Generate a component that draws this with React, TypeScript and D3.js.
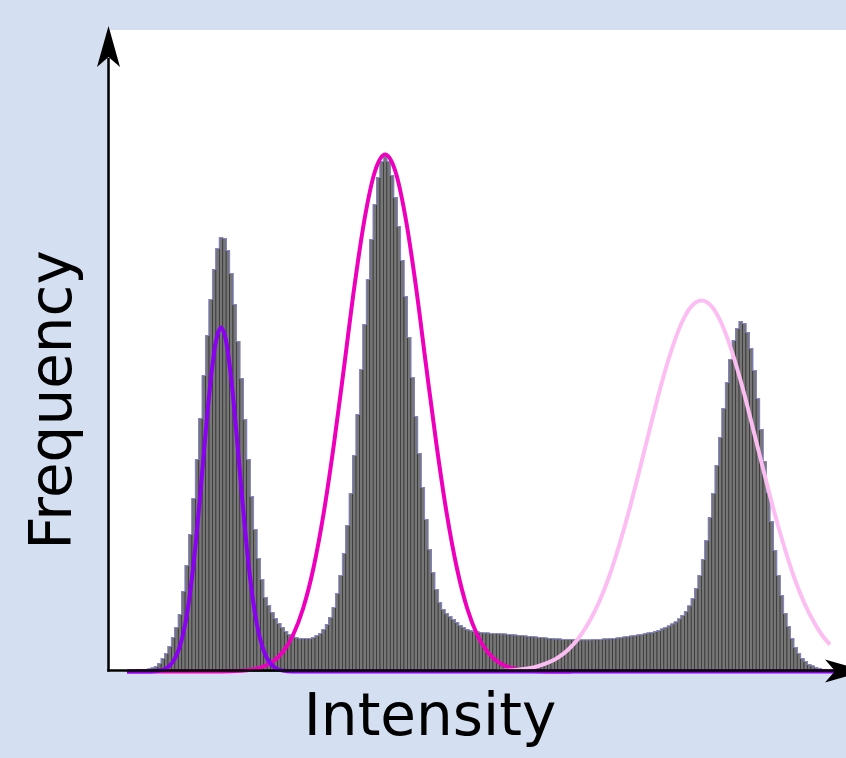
import { useEffect, useRef } from "react";
import * as d3 from "d3";

const W = 846;
const H = 758;
const BG = "#d4e0f1";
const BAR_FILL = "#767676";
const BAR_EDGE = "#2f2f2f";
const OUTLINE = "#8585c8";

// Histogram of pixel intensities, 205 bins (frequency, arbitrary units)
const binCounts = [
  1, 1, 1, 1.5, 2, 2, 2.5, 3.5, 5, 8, 13, 18, 25, 34, 44, 57,
  80, 106, 137, 173, 212, 253, 296, 336, 372, 402, 423, 434, 433, 421, 398, 367, 330,
  293, 252, 212, 175, 142, 113, 92, 74, 66, 59, 53, 48, 44, 40, 37, 35, 34, 33, 33, 33, 33, 34,
  36, 38, 42, 47, 54, 64, 78, 96, 118, 146, 178, 216, 257, 302, 347, 392, 432, 467, 494, 510, 515,
  510, 496, 474, 445, 411, 375, 334, 294, 255, 218, 184, 152, 122, 99, 82, 69,
  62, 58, 55, 52, 49, 46, 44, 42, 41, 40,
  39.5, 39, 38.5, 38.5, 38, 38, 38, 37.5, 37.5, 37,
  37, 36.5, 36, 36, 35.5, 35, 35, 34.5, 34, 34,
  33.5, 33, 33, 32.5, 32.5, 32, 32, 32, 32, 31.5,
  31.5, 31.5, 31.5, 31.5, 32, 32, 32, 32.5, 32.5, 33,
  33, 33.5, 34, 34.5, 35, 35.5, 36, 36.5, 37,
  38, 38.5, 39, 40, 41, 42.5, 44, 45.5, 47.5, 49.5, 52.5, 56, 60, 65.5,
  73, 83, 96, 112, 131, 154, 178, 206, 234, 263, 289, 312, 331, 343, 350,
  348, 339, 323, 301, 273, 242, 210, 179, 150, 121, 96, 76, 58, 45, 33, 24, 18, 13, 10, 7, 5.5, 4, 3, 2, 1.5,
];

// fitted class curves, sampled (x in bin units)
const purpleX = [0, 6.5, 9.5, 11, 12.5, 14, 15.5, 17, 18.5, 20, 21.5, 23, 24.5, 26, 27.5, 29, 30.5, 32, 33.5, 35, 36.5, 38, 39.5, 41, 42.5, 44, 45.5, 48.5, 60, 210];
const purpleY = [0, 0.1, 1.0, 2.5, 5.9, 12.8, 25.6, 47, 80, 125, 180, 239, 292, 330, 344, 330, 292, 239, 180, 125, 80, 47, 25.6, 12.8, 5.9, 2.5, 1.0, 0.1, 0, 0];

const magentaX = [0, 27.5, 33.5, 36.5, 39.5, 42.5, 45.5, 48.5, 51.5, 54.5, 57.5, 60.5, 63.5, 66.5, 69.5, 72.5, 75.5, 78.5, 81.5, 84.5, 87.5, 90.5, 93.5, 96.5, 99.5, 102.5, 105.5, 108.5, 111.5, 114.5, 117.5, 123.5, 130];
const magentaY = [0, 0.1, 0.8, 2.0, 4.5, 9.7, 19.3, 36, 63, 103, 158, 227, 305, 385, 453, 500, 517, 500, 453, 385, 305, 227, 158, 103, 63, 36, 19.3, 9.7, 4.5, 2.0, 0.8, 0.1, 0];

const pinkX = [108, 114, 120, 126, 129, 132, 135, 138, 141, 144, 147, 150, 153, 156, 159, 162, 165, 168, 171, 174, 177, 180, 183, 186, 189, 192, 195, 198, 201, 204, 205.6];
const pinkY = [0.45, 1.6, 5.1, 13.8, 21.8, 33, 48.7, 69, 95, 127, 163, 203, 244, 284, 319, 347, 365, 371, 365, 347, 319, 284, 244, 203, 163, 127, 95, 69, 48.7, 33, 27];

const xLabel = "Intensity";
const yLabel = "Frequency";

function buildChart(svgEl: SVGSVGElement) {
  const svg = d3.select(svgEl);
  svg.selectAll("*").remove();
  svg.attr("width", W).attr("height", H);

  svg.append("rect").attr("width", W).attr("height", H).attr("fill", BG);
  svg.append("rect")
    .attr("x", 110).attr("y", 30)
    .attr("width", W - 110).attr("height", 642)
    .attr("fill", "#ffffff");

  const x = d3.scaleLinear().domain([0, binCounts.length]).range([127, 828]);
  const y = d3.scaleLinear().domain([0, 641]).range([671.5, 30.5]);

  // bars
  const bars = svg.append("g");
  binCounts.forEach((v, i) => {
    bars.append("rect")
      .attr("x", x(i))
      .attr("y", y(v))
      .attr("width", x(i + 1) - x(i))
      .attr("height", y(0) - y(v))
      .attr("fill", BAR_FILL)
      .attr("stroke", BAR_EDGE)
      .attr("stroke-width", 0.7);
  });

  // lavender silhouette
  const steps: [number, number][] = [[x(0), y(0)]];
  binCounts.forEach((v, i) => {
    steps.push([x(i), y(v)], [x(i + 1), y(v)]);
  });
  steps.push([x(binCounts.length), y(0)]);
  svg.append("path")
    .attr("d", d3.line()(steps))
    .attr("fill", "none")
    .attr("stroke", OUTLINE)
    .attr("stroke-width", 1.1);

  const curve = d3.line<[number, number]>()
    .x(d => x(d[0]))
    .y(d => y(d[1]))
    .curve(d3.curveMonotoneX);

  const drawCurve = (xs: number[], ys: number[], col: string) => {
    svg.append("path")
      .attr("d", curve(d3.zip(xs, ys) as [number, number][]))
      .attr("fill", "none")
      .attr("stroke", col)
      .attr("stroke-width", 4)
      .attr("stroke-linejoin", "round");
  };

  drawCurve(magentaX, magentaY, "#ec00bc");
  drawCurve(pinkX, pinkY, "#fcbdf2");
  drawCurve(purpleX, purpleY, "#8a00f2");

  // axes
  svg.append("line")
    .attr("x1", 108.5).attr("x2", 108.5)
    .attr("y1", 671.5).attr("y2", 58)
    .attr("stroke", "#000").attr("stroke-width", 2.5);
  svg.append("path")
    .attr("d", "M108.5,26 L120,67 L108.5,57 L97,67 Z")
    .attr("fill", "#000");

  svg.append("line")
    .attr("x1", 107.3).attr("x2", 836)
    .attr("y1", 670.5).attr("y2", 670.5)
    .attr("stroke", "#000").attr("stroke-width", 2.5);
  svg.append("path")
    .attr("d", "M866,671 L825,659.5 L835,671 L825,682.5 Z")
    .attr("fill", "#000");

  svg.append("text")
    .attr("x", 430).attr("y", 735)
    .attr("text-anchor", "middle")
    .attr("font-family", "DejaVu Sans, Verdana, sans-serif")
    .attr("font-size", 58)
    .attr("fill", "#000")
    .text(xLabel);

  svg.append("text")
    .attr("transform", "translate(71,400) rotate(-90)")
    .attr("text-anchor", "middle")
    .attr("font-family", "DejaVu Sans, Verdana, sans-serif")
    .attr("font-size", 58)
    .attr("fill", "#000")
    .text(yLabel);
}

export default function App() {
  const svgRef = useRef<SVGSVGElement>(null);

  useEffect(() => {
    if (svgRef.current) buildChart(svgRef.current);
  }, []);

  return (
    <svg
      ref={svgRef}
      width={W}
      height={H}
      style={{ position: "absolute", left: 0, top: 0, display: "block" }}
    />
  );
}
